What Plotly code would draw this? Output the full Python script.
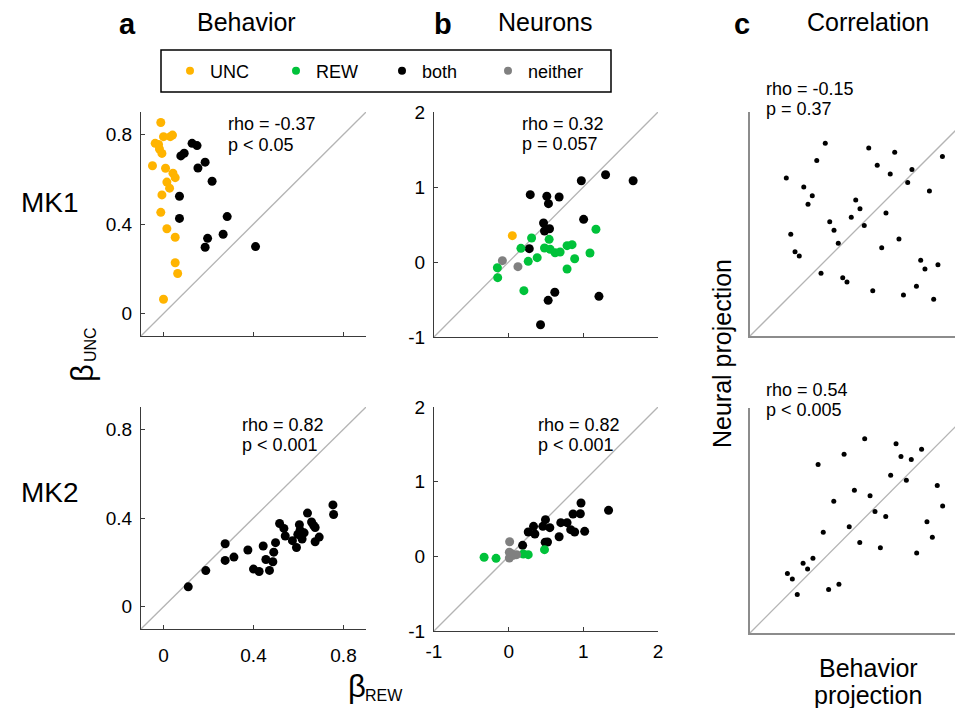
import plotly.graph_objects as go

W, H = 963, 708
OFF = 8  # the page body adds an 8 px margin; shift layout so it lands where the reference is


def px(x):
    return (x - OFF) / W


def py(y):
    return 1 - (y - OFF) / H


# ---------------- data ----------------
# Panel a, MK1 (behavior): beta_REW (x) vs beta_UNC (y)
a1_unc_x = [-0.012, 0.000, 0.030, 0.040, -0.037, -0.022, -0.018, -0.007, -0.049, 0.009, 0.042,
            0.052, 0.015, 0.027, -0.007, -0.012, 0.015, 0.052, 0.052, 0.063, 0.000]
a1_unc_y = [0.853, 0.790, 0.790, 0.797, 0.760, 0.755, 0.735, 0.715, 0.660, 0.649, 0.627,
            0.607, 0.587, 0.560, 0.530, 0.452, 0.379, 0.341, 0.227, 0.179, 0.064]
a1_both_x = [0.127, 0.149, 0.077, 0.092, 0.185, 0.153, 0.216, 0.071, 0.071, 0.283, 0.265, 0.196, 0.185, 0.409]
a1_both_y = [0.760, 0.750, 0.704, 0.716, 0.676, 0.650, 0.591, 0.524, 0.425, 0.433, 0.354, 0.336, 0.296, 0.299]

# Panel a, MK2 (behavior)
a2_both_x = [0.110, 0.188, 0.274, 0.274, 0.313, 0.375, 0.400, 0.425, 0.443, 0.455, 0.471, 0.486,
             0.490, 0.498, 0.516, 0.535, 0.541, 0.573, 0.591, 0.597, 0.604, 0.607, 0.616, 0.625,
             0.640, 0.658, 0.667, 0.674, 0.692, 0.674, 0.753, 0.756]
a2_both_y = [0.090, 0.163, 0.284, 0.209, 0.224, 0.256, 0.170, 0.159, 0.274, 0.213, 0.164, 0.203,
             0.246, 0.289, 0.375, 0.353, 0.319, 0.298, 0.267, 0.326, 0.370, 0.345, 0.305, 0.333,
             0.422, 0.382, 0.367, 0.357, 0.314, 0.293, 0.459, 0.416]

# Panel b, MK1 (neurons)
b1_both_x = [0.289, 0.511, 0.533, 0.676, 0.973, 1.298, 1.667, 1.004, 0.467, 0.547, 0.480, 0.276,
             0.618, 0.529, 1.209, 0.427]
b1_both_y = [0.898, 0.876, 0.778, 0.867, 1.084, 1.164, 1.084, 0.569, 0.520, 0.444, 0.413, 0.178,
             -0.404, -0.511, -0.458, -0.836]
b1_unc_x = [0.049]
b1_unc_y = [0.351]
b1_nei_x = [-0.084, 0.124]
b1_nei_y = [0.018, -0.062]
b1_rew_x = [-0.151, -0.147, 0.164, 0.307, 0.262, 0.382, 0.204, 0.480, 0.542, 0.556, 0.622, 0.689,
            0.782, 0.849, 0.884, 0.782, 1.089, 1.169]
b1_rew_y = [-0.076, -0.209, 0.182, 0.320, 0.009, 0.058, -0.382, 0.187, 0.302, 0.169, 0.124, 0.133,
            0.218, 0.231, 0.044, -0.093, 0.120, 0.436]

# Panel b, MK2 (neurons)
b2_both_x = [0.187, 0.262, 0.333, 0.351, 0.458, 0.493, 0.551, 0.520, 0.489, 0.676, 0.698, 0.782,
             0.862, 0.960, 0.969, 0.831, 0.884, 1.018, 1.338]
b2_both_y = [0.147, 0.326, 0.402, 0.299, 0.402, 0.491, 0.384, 0.192, 0.188, 0.263, 0.451, 0.451,
             0.567, 0.571, 0.714, 0.357, 0.326, 0.335, 0.616]
b2_nei_x = [0.013, 0.009, 0.009, 0.062, 0.107, 0.040]
b2_nei_y = [0.196, 0.054, -0.022, 0.013, 0.022, 0.036]
b2_rew_x = [-0.329, -0.169, 0.196, 0.262, 0.480]
b2_rew_y = [-0.013, -0.027, 0.031, 0.022, 0.089]

# Panel c, MK1: behavior projection vs neural projection (arbitrary units)
c1_x = [0.162, 0.336, 0.298, 0.240, 0.278, 0.259, 0.182, 0.201, 0.220, 0.356, 0.375, 0.394, 0.317,
        0.414, 0.433, 0.472, 0.491, 0.452, 0.510, 0.530, 0.568, 0.646, 0.626, 0.723, 0.704, 0.607,
        0.665, 0.588, 0.548, 0.685, 0.743, 0.762, 0.781, 0.839, 0.820, 0.801, 0.859]
c1_y = [0.705, 0.860, 0.783, 0.665, 0.626, 0.588, 0.454, 0.376, 0.357, 0.510, 0.472, 0.414, 0.280,
        0.260, 0.241, 0.607, 0.568, 0.530, 0.493, 0.839, 0.762, 0.820, 0.723, 0.743, 0.685, 0.549,
        0.433, 0.394, 0.202, 0.183, 0.222, 0.338, 0.299, 0.318, 0.164, 0.647, 0.801]

# Panel c, MK2
c2_x = [0.167, 0.189, 0.211, 0.237, 0.257, 0.281, 0.304, 0.327, 0.351, 0.397, 0.374, 0.420, 0.443,
        0.466, 0.490, 0.512, 0.536, 0.558, 0.582, 0.606, 0.628, 0.652, 0.674, 0.698, 0.720, 0.744,
        0.766, 0.790, 0.814, 0.836, 0.860]
c2_y = [0.265, 0.240, 0.171, 0.310, 0.284, 0.332, 0.749, 0.448, 0.193, 0.217, 0.586, 0.795, 0.472,
        0.634, 0.402, 0.863, 0.610, 0.540, 0.379, 0.518, 0.701, 0.841, 0.784, 0.679, 0.771, 0.356,
        0.817, 0.494, 0.426, 0.656, 0.564]

stats_a = [["rho = -0.37", "p < 0.05"], ["rho = 0.82", "p < 0.001"]]
stats_b = [["rho = 0.32", "p = 0.057"], ["rho = 0.82", "p < 0.001"]]
stats_c = [["rho = -0.15", "p = 0.37"], ["rho = 0.54", "p < 0.005"]]

beh_tickvals = [0, 0.4, 0.8]
beh_ticktext = ["0", "0.4", "0.8"]
neu_tickvals = [-1, 0, 1, 2]
neu_ticktext = ["-1", "0", "1", "2"]

legend_names = ["UNC", "REW", "both", "neither"]

# ---------------- style ----------------
YEL = "#FFB400"
GRN = "#00C23A"
BLK = "#000000"
GRY = "#808080"
legend_colors = [YEL, GRN, BLK, GRY]
FONT = "Liberation Sans, Arial, sans-serif"
AX = "#3a3a3a"
DIAG = "#b4b4b4"

beh_range = [-0.1, 0.9]
neu_range = [-1, 2]
c_yrange = [0, 1]
c_xrange = [0, 213 / 224]

fig = go.Figure()

for n, c in zip(legend_names, legend_colors):
    fig.add_trace(go.Scatter(x=[None], y=[None], mode="markers", name=n,
                             marker=dict(color=c, size=8), showlegend=True))


def diag(xref, yref, lo, hi):
    fig.add_trace(go.Scatter(x=[lo, hi], y=[lo, hi], mode="lines", xaxis=xref, yaxis=yref,
                             line=dict(color=DIAG, width=1.3), showlegend=False, hoverinfo="skip"))


def dots(xref, yref, xs, ys, color, size=9):
    fig.add_trace(go.Scatter(x=xs, y=ys, mode="markers", xaxis=xref, yaxis=yref,
                             marker=dict(color=color, size=size, line=dict(width=0)),
                             showlegend=False, cliponaxis=False))


# panel a
diag("x", "y", beh_range[0], beh_range[1])
dots("x", "y", a1_both_x, a1_both_y, BLK)
dots("x", "y", a1_unc_x, a1_unc_y, YEL)
diag("x2", "y2", beh_range[0], beh_range[1])
dots("x2", "y2", a2_both_x, a2_both_y, BLK)
# panel b
diag("x3", "y3", neu_range[0], neu_range[1])
dots("x3", "y3", b1_both_x, b1_both_y, BLK)
dots("x3", "y3", b1_rew_x, b1_rew_y, GRN)
dots("x3", "y3", b1_unc_x, b1_unc_y, YEL)
dots("x3", "y3", b1_nei_x, b1_nei_y, GRY)
diag("x4", "y4", neu_range[0], neu_range[1])
dots("x4", "y4", b2_both_x, b2_both_y, BLK)
dots("x4", "y4", b2_rew_x, b2_rew_y, GRN)
dots("x4", "y4", b2_nei_x, b2_nei_y, GRY)
# panel c
diag("x5", "y5", 0, c_xrange[1])
dots("x5", "y5", c1_x, c1_y, BLK, size=5)
diag("x6", "y6", 0, c_xrange[1])
dots("x6", "y6", c2_x, c2_y, BLK, size=5)


def ax(dom, rng, anchor, tv=None, tt=None, labels=True, standoff=6):
    d = dict(domain=dom, range=rng, anchor=anchor, showline=True, linecolor=AX, linewidth=1,
             showgrid=False, zeroline=False, fixedrange=True, automargin=False,
             tickfont=dict(size=19, color="black", family=FONT))
    if tv is None:
        d.update(ticks="", showticklabels=False, linecolor="#8c8c8c", linewidth=1.6)
    else:
        d.update(ticks="inside", ticklen=4, tickwidth=1, tickcolor=AX, tickvals=tv, ticktext=tt,
                 showticklabels=labels, ticklabelstandoff=standoff)
    return d


xa = [px(141), px(366)]
xb = [px(434), px(658)]
xc = [px(750), px(963)]
y1a = [py(336), py(112)]
y2a = [py(629), py(407)]
y1b = [py(337), py(112)]
y2b = [py(631), py(407)]
y1c = [py(336), py(112)]
y2c = [py(633), py(408)]

fig.update_layout(
    xaxis=ax(xa, beh_range, "y", beh_tickvals, beh_ticktext, labels=False),
    yaxis=ax(y1a, beh_range, "x", beh_tickvals, beh_ticktext, standoff=4),
    xaxis2=ax(xa, beh_range, "y2", beh_tickvals, beh_ticktext, standoff=9),
    yaxis2=ax(y2a, beh_range, "x2", beh_tickvals, beh_ticktext, standoff=4),
    xaxis3=ax(xb, neu_range, "y3", neu_tickvals, neu_ticktext, labels=False),
    yaxis3=ax(y1b, neu_range, "x3", neu_tickvals, neu_ticktext, standoff=4),
    xaxis4=ax(xb, neu_range, "y4", neu_tickvals, neu_ticktext, standoff=3),
    yaxis4=ax(y2b, neu_range, "x4", neu_tickvals, neu_ticktext, standoff=4),
    xaxis5=ax(xc, c_xrange, "y5"),
    yaxis5=ax(y1c, c_yrange, "x5"),
    xaxis6=ax(xc, c_xrange, "y6"),
    yaxis6=ax(y2c, c_yrange, "x6"),
)

ann = []


def text(x, y, s, size, xanchor="center", yanchor="middle", angle=0):
    ann.append(dict(x=px(x), y=py(y), xref="paper", yref="paper", text=s, showarrow=False,
                    xanchor=xanchor, yanchor=yanchor, textangle=angle,
                    font=dict(size=size, color="black", family=FONT)))


# panel letters and titles
text(127, 24, "<b>a</b>", 29)
text(443, 24, "<b>b</b>", 29)
text(742, 24, "<b>c</b>", 29)
text(246, 22, "Behavior", 25)
text(545, 22, "Neurons", 25)
text(868, 22, "Correlation", 25)

# row labels
text(50, 203, "MK1", 28)
text(50, 492, "MK2", 28)

# stats
for (s, x, ys) in [(stats_a[0], 226, (124, 145)), (stats_a[1], 240, (425, 445)),
                   (stats_b[0], 520, (124, 144)), (stats_b[1], 536, (425, 445)),
                   (stats_c[0], 764, (89, 109)), (stats_c[1], 764, (390, 410))]:
    text(x, ys[0], s[0], 18, xanchor="left")
    text(x, ys[1], s[1], 18, xanchor="left")

# axis labels: beta with small subscript
text(82, 373, "β", 31, angle=-90)
text(90, 345, "UNC", 16, angle=-90)
text(357, 686, "β", 31)
text(384, 695, "REW", 16)
text(722, 354, "Neural projection", 25, angle=-90)
text(868, 668, "Behavior", 25)
text(868, 695, "projection", 25)

fig.update_layout(
    annotations=ann,
    shapes=[dict(type="rect", xref="paper", yref="paper", x0=px(161), x1=px(611),
                 y0=py(92), y1=py(50), line=dict(color="black", width=1.5))],
    width=W, height=H,
    margin=dict(l=0, r=0, t=0, b=0),
    paper_bgcolor="white", plot_bgcolor="white",
    font=dict(family=FONT, color="black"),
    showlegend=True,
    legend=dict(orientation="h", x=px(170), y=py(71), xanchor="left", yanchor="middle",
                font=dict(size=18, family=FONT, color="black"), bgcolor="rgba(0,0,0,0)",
                borderwidth=0, entrywidth=61, entrywidthmode="pixels", itemclick=False,
                itemdoubleclick=False),
    hovermode=False,
)

fig.write_html("out.html")
